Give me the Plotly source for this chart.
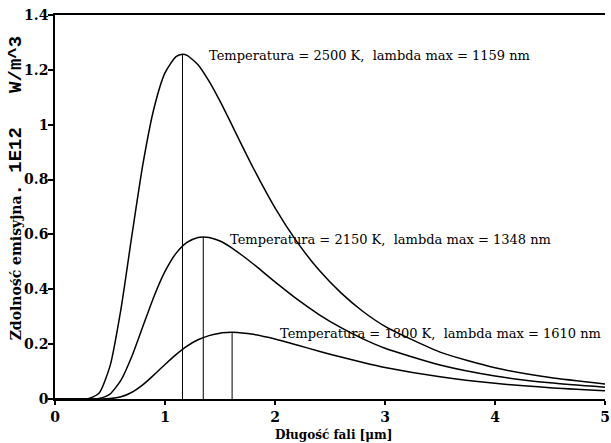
import plotly.graph_objects as go

# wavelength grid [um]
wavelength = [0.0, 0.1, 0.2, 0.3, 0.4, 0.5, 0.6, 0.7, 0.8, 0.9, 1.0, 1.1, 1.2, 1.3, 1.4,
              1.5, 1.6, 1.7, 1.8, 2.0, 2.2, 2.4, 2.6, 2.8, 3.0, 3.5, 4.0, 4.5, 5.0]

emis_2500 = [0.0, 0.0, 0.0, 0.0007, 0.0206, 0.120, 0.329, 0.599, 0.858, 1.060, 1.189, 1.248, 1.253,
             1.219, 1.159, 1.086, 1.006, 0.924, 0.844, 0.697, 0.573, 0.470, 0.387, 0.319, 0.265,
             0.171, 0.114, 0.078, 0.055]
emis_2150 = [0.0, 0.0, 0.0, 0.0, 0.002, 0.018, 0.069, 0.157, 0.266, 0.374, 0.465, 0.531, 0.571,
             0.589, 0.589, 0.576, 0.553, 0.524, 0.493, 0.427, 0.364, 0.308, 0.260, 0.219, 0.185,
             0.124, 0.084, 0.059, 0.043]
emis_1800 = [0.0, 0.0, 0.0, 0.0, 0.0001, 0.0014, 0.0079, 0.0245, 0.0523, 0.088, 0.126, 0.162, 0.193,
             0.216, 0.231, 0.240, 0.243, 0.241, 0.236, 0.219, 0.197, 0.174, 0.153, 0.133, 0.115,
             0.081, 0.057, 0.041, 0.030]

peak_lambda = [1.159, 1.348, 1.610]
peak_value = [1.257, 0.591, 0.243]

labels = ["Temperatura = 2500 K,  lambda max = 1159 nm",
          "Temperatura = 2150 K,  lambda max = 1348 nm",
          "Temperatura = 1800 K,  lambda max = 1610 nm"]
label_x = [1.38, 1.57, 2.03]
label_y = [1.252, 0.582, 0.238]

x_ticks = [0, 1, 2, 3, 4, 5]
y_ticks = [0, 0.2, 0.4, 0.6, 0.8, 1.0, 1.2, 1.4]
y_tick_text = ["0", "0.2", "0.4", "0.6", "0.8", "1", "1.2", "1.4"]

SERIF = "DejaVu Serif"
NB = "\u00a0"

fig = go.Figure()

def with_peak(xs, ys, px, py):
    pts = sorted(list(zip(xs, ys)) + [(px, py)])
    return [p[0] for p in pts], [p[1] for p in pts]

for ys, px, py in zip([emis_2500, emis_2150, emis_1800], peak_lambda, peak_value):
    xx, yy = with_peak(wavelength, ys, px, py)
    fig.add_trace(go.Scatter(x=xx, y=yy, mode="lines",
                             line=dict(color="black", width=1.5, shape="spline", smoothing=0.6),
                             showlegend=False, hoverinfo="skip"))
    fig.add_trace(go.Scatter(x=[px, px], y=[0, py], mode="lines",
                             line=dict(color="black", width=1),
                             showlegend=False, hoverinfo="skip"))

for t, lx, ly in zip(labels, label_x, label_y):
    fig.add_annotation(x=lx, y=ly, text=t, showarrow=False, xanchor="left", yanchor="middle",
                       font=dict(family=SERIF, size=13, color="black"))

# axis titles as annotations for precise placement
fig.add_annotation(x=(336 - 55) / 555, y=-0.095, xref="paper", yref="paper",
                   text="<b>Długość fali [μm]</b>", showarrow=False,
                   xanchor="center", yanchor="middle",
                   font=dict(family=SERIF, size=12, color="black"))
mono_part = "." + NB + "1E12" + NB * 3 + "W/m^3"
fig.add_annotation(x=-39 / 555, y=(399 - 188) / 384, xref="paper", yref="paper",
                   text=("<b>Zdolność emisyjna</b>"
                         "<span style=\"font-family:'Liberation Mono';font-size:19px;font-weight:bold\">"
                         + mono_part + "</span>"),
                   textangle=-90, showarrow=False, xanchor="center", yanchor="middle",
                   font=dict(family=SERIF, size=14, color="black"))

fig.update_layout(
    width=611, height=443,
    margin=dict(l=55, r=1, t=15, b=44),
    paper_bgcolor="white", plot_bgcolor="white",
    font=dict(family=SERIF, color="black"),
)
fig.update_xaxes(range=[0, 5], tickvals=x_ticks, ticktext=[str(v) for v in x_ticks],
                 showgrid=False, zeroline=False, showline=True, linecolor="black", linewidth=1.5,
                 mirror=True, ticks="outside", ticklen=4, tickcolor="black", tickwidth=1.5,
                 ticklabeloverflow="allow",
                 tickfont=dict(family=SERIF, size=14, color="black", weight="bold"))
fig.update_yaxes(range=[0, 1.4], tickvals=y_ticks, ticktext=y_tick_text,
                 showgrid=False, zeroline=False, showline=True, linecolor="black", linewidth=1.5,
                 ticks="outside", ticklen=5, tickcolor="black", tickwidth=1.5,
                 ticklabelstandoff=-3,
                 tickfont=dict(family=SERIF, size=14, color="black", weight="bold"))

fig.write_html("out.html")
